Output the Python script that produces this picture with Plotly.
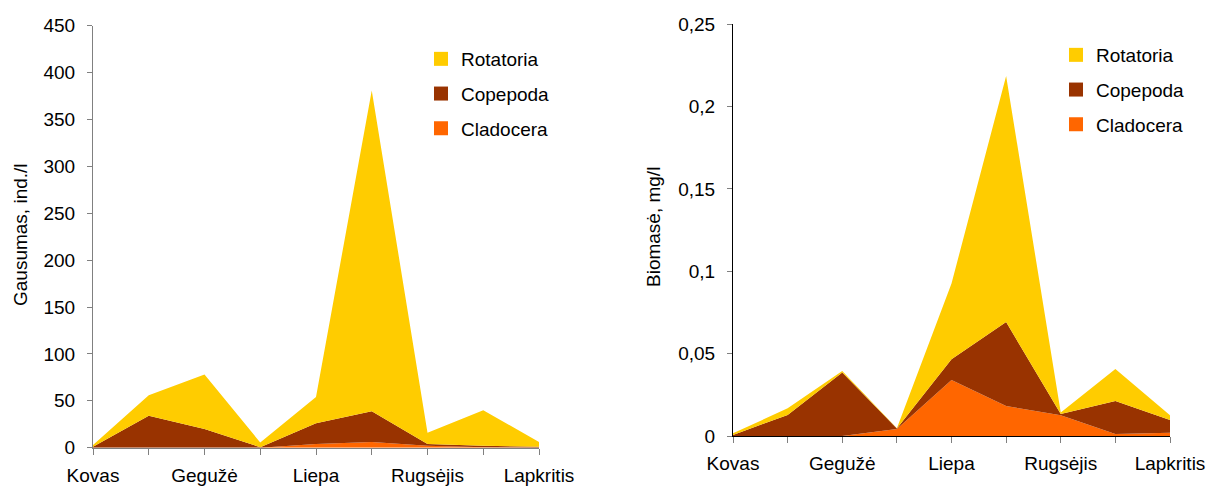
import plotly.graph_objects as go

# months (every second one is labelled on the axis)
months = ['Kovas', 'Balandis', 'Gegužė', 'Birželis', 'Liepa',
          'Rugpjūtis', 'Rugsėjis', 'Spalis', 'Lapkritis']

# abundance, ind./l
abund_clad = [0, 0, 0, 0, 4, 6, 2, 0.5, 0]
abund_cop = [1, 34, 20, 0.5, 22, 33, 2, 1.5, 1]
abund_rot = [2, 22, 58, 5, 28, 342, 12, 38, 5]

# biomass, mg/l
bio_clad = [0, 0, 0, 0.0043, 0.034, 0.0182, 0.0126, 0.0012, 0.002]
bio_cop = [0.0006, 0.0128, 0.0385, 0.0002, 0.0126, 0.051, 0.0008, 0.0201, 0.0077]
bio_rot = [0.001, 0.004, 0.001, 0.0002, 0.046, 0.1494, 0.0008, 0.0194, 0.0029]

names = ['Cladocera', 'Copepoda', 'Rotatoria']
colors = ['#FF6600', '#993300', '#FFCC00']

FONT = 'Liberation Sans, Arial, sans-serif'
FS = 19
W, H = 1209, 487

x = list(range(len(months)))
ticktext = [m if i % 2 == 0 else '' for i, m in enumerate(months)]

fig = go.Figure()

# left chart
for name, col, vals in zip(names, colors, [abund_clad, abund_cop, abund_rot]):
    fig.add_trace(go.Scatter(x=x, y=vals, name=name, stackgroup='a', mode='none',
                             fillcolor=col, showlegend=False, xaxis='x', yaxis='y'))
# right chart
for name, col, vals in zip(names, colors, [bio_clad, bio_cop, bio_rot]):
    fig.add_trace(go.Scatter(x=x, y=vals, name=name, stackgroup='b', mode='none',
                             fillcolor=col, showlegend=False, xaxis='x2', yaxis='y2'))

# legend swatches (square markers), top entry first
for lg in ['legend', 'legend2']:
    for name, col in zip(names[::-1], colors[::-1]):
        fig.add_trace(go.Scatter(x=[None], y=[None], name=name, mode='markers',
                                 marker=dict(symbol='square', size=14, color=col),
                                 legend=lg, legendgroup=lg + name, xaxis='x', yaxis='y'))

tick_font = dict(family=FONT, size=FS, color='#000')

xcommon = dict(tickmode='array', tickvals=x, ticktext=ticktext, range=[0, 8],
               showgrid=False, zeroline=False, showline=True, ticks='outside',
               ticklen=6, tickfont=tick_font, ticklabelstandoff=4, fixedrange=True)

fig.update_layout(
    width=W, height=H,
    template='none',
    plot_bgcolor='white', paper_bgcolor='white',
    margin=dict(l=0, r=0, t=0, b=0),
    separators=', ',
    font=dict(family=FONT, size=FS, color='#000'),
    xaxis=dict(xcommon, domain=[93 / W, 539 / W], anchor='y',
               linecolor='#808080', tickcolor='#808080'),
    xaxis2=dict(xcommon, domain=[733 / W, 1170 / W], anchor='y2',
                linecolor='#000', tickcolor='#808080'),
    yaxis=dict(domain=[1 - 447.7 / H, 1 - 25.7 / H], anchor='x', range=[0, 450],
               dtick=50, showgrid=False, zeroline=False, showline=True,
               linecolor='#808080', ticks='outside', ticklen=5, tickcolor='#808080',
               tickfont=tick_font, ticklabelstandoff=8, fixedrange=True),
    yaxis2=dict(domain=[1 - 436 / H, 1 - 24.3 / H], anchor='x2', range=[0, 0.25],
                dtick=0.05, showgrid=False, zeroline=False, showline=True,
                linecolor='#000', ticks='outside', ticklen=5, tickcolor='#808080',
                tickfont=tick_font, ticklabelstandoff=8, fixedrange=True),
    legend=dict(x=421 / W, y=1 - 40 / H, xanchor='left', yanchor='top',
                traceorder='grouped', tracegroupgap=7, itemwidth=30,
                font=dict(family=FONT, size=FS), bgcolor='rgba(0,0,0,0)'),
    legend2=dict(x=1056 / W, y=1 - 36 / H, xanchor='left', yanchor='top',
                 traceorder='grouped', tracegroupgap=7, itemwidth=30,
                 font=dict(family=FONT, size=FS), bgcolor='rgba(0,0,0,0)'),
    annotations=[
        dict(text='Gausumas, ind./l', x=20 / W, y=1 - 235 / H, xref='paper', yref='paper',
             xanchor='center', yanchor='middle',
             textangle=-90, showarrow=False, font=dict(family=FONT, size=FS)),
        dict(text='Biomasė, mg/l', x=653 / W, y=1 - 227 / H, xref='paper', yref='paper',
             xanchor='center', yanchor='middle',
             textangle=-90, showarrow=False, font=dict(family=FONT, size=FS)),
    ],
)

fig.write_html('out.html', config={'displayModeBar': False},
               post_script="document.body.style.margin='0px';")
